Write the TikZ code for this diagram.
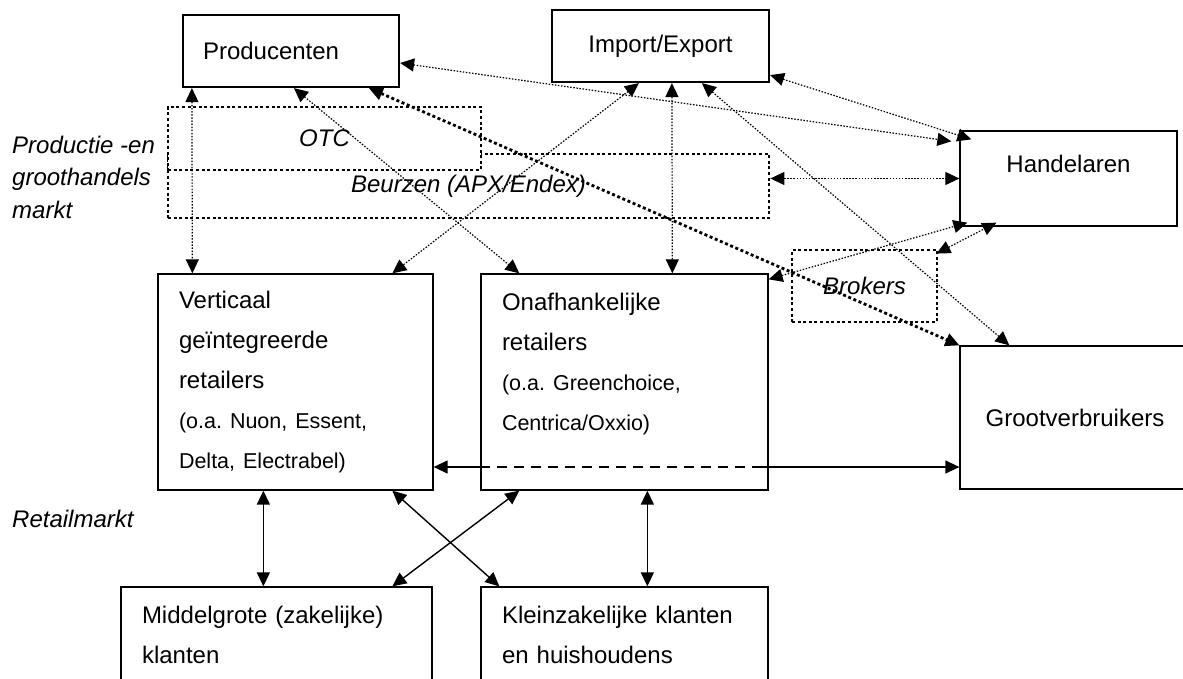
\documentclass[tikz,border=0pt]{standalone}
\usepackage{fontspec}
\setmainfont{Liberation Sans}
\usetikzlibrary{positioning}
\usetikzlibrary{arrows.meta}
\usetikzlibrary{calc}

\begin{document}
\begin{tikzpicture}[x=1pt, y=-1pt,
    >={Triangle[length=14pt, width=13pt]},
    box/.style={draw, line width=1.3pt, fill=white, inner sep=0pt, font=\fontsize{24}{40}\selectfont\frenchspacing},
    mkt/.style={box, line width=2.8pt, dash pattern=on 3pt off 2.6pt, font=\fontsize{24}{40}\selectfont\itshape},
    txt/.style={inner sep=0pt, font=\fontsize{24}{40}\selectfont},
    side/.style={inner sep=0pt, align=left, font=\fontsize{24}{32.5}\selectfont\itshape},
    lnk/.style={<->, line width=1.2pt, dash pattern=on 1.5pt off 1.6pt},
    thk/.style={<->, line width=2.8pt, dash pattern=on 3pt off 2.6pt},
    sol/.style={line width=1.4pt}]
    \useasboundingbox (0,0) rectangle (1183,679);

    % markt labels
    \node[side, anchor=north west] (pgm) at (12,135.5) {Productie -en\\ groothandels\\ markt};
    \node[side, anchor=base west] (rm) at (12,527) {Retailmarkt};

    % productie en groothandel
    \node[box, line width=2.2pt, minimum width=216pt, minimum height=72pt, text width=176pt, align=left] (prod) at (291,51) {Producenten};
    \node[box, line width=2.2pt, minimum width=217pt, minimum height=72pt] (ie) at (660.5,46) {Import/Export};
    \node[mkt, minimum width=601pt, minimum height=64pt] (beurs) at (468.5,186) {Beurzen (APX/Endex)};
    \node[mkt, line width=2.3pt, minimum width=313pt, minimum height=63pt] (otc) at (324.5,138.5) {OTC};
    \node[box, minimum width=217pt, minimum height=95pt] (hand) at (1068.5,178.5) {};
    \node[txt] (hand-t) at ([yshift=-34pt]hand.north) {Handelaren};
    \node[mkt, minimum width=145pt, minimum height=72pt] (brok) at (864.5,286) {Brokers};
    \node[box, minimum width=230pt, minimum height=143pt] (groot) at (1075,417.5) {Grootverbruikers};

    % retail
    \node[box, minimum width=275pt, minimum height=216pt, text width=233pt, align=left] (vert) at (295.5,382)
        {Verticaal\\ geïntegreerde\\ retailers\\ {\fontsize{21.5}{40}\selectfont (o.a. Nuon, Essent,}\\ {\fontsize{21.5}{40}\selectfont Delta, Electrabel)}};
    \node[box, minimum width=287pt, minimum height=216pt, text width=245pt, align=left] (onaf) at (624.5,382)
        {Onafhankelijke\\ retailers\\ {\fontsize{21.5}{40}\selectfont (o.a. Greenchoice,}\\ {\fontsize{21.5}{40}\selectfont Centrica/Oxxio)}\\ \mbox{}};
    \node[box, minimum width=311pt, minimum height=95pt, text width=269pt, align=left] (mid) at (276.5,634.5) {Middelgrote (zakelijke)\\ klanten};
    \node[box, minimum width=287pt, minimum height=95pt, text width=245pt, align=left] (klein) at (624.5,634.5) {Kleinzakelijke klanten\\ en huishoudens};

    % groothandelsstromen
    \draw[lnk] ([xshift=10pt]prod.south west) -- ([xshift=35pt]vert.north west);
    \draw[lnk] ([xshift=112pt]prod.south west) -- ([xshift=39pt]onaf.north west);
    \draw[thk] ([xshift=187pt]prod.south west) -- (groot.north west);
    \draw[lnk] ([yshift=-12pt]prod.east) -- ([xshift=-8pt, yshift=-11pt]hand.north west);
    \draw[lnk] ([xshift=88pt]ie.south west) -- ([xshift=235pt]vert.north west);
    \draw[lnk] ([xshift=121pt]ie.south west) -- ([xshift=192pt]onaf.north west);
    \draw[lnk] ([xshift=151pt]ie.south west) -- ([xshift=50pt]groot.north west);
    \draw[lnk] ([yshift=8pt]ie.south east) -- ([xshift=12pt, yshift=-9pt]hand.north west);
    \draw[lnk] (beurs.east |- hand.west) -- (hand.west);
    \draw[lnk] ([yshift=-6pt]onaf.north east) -- ([xshift=8pt, yshift=4pt]hand.south west);
    \draw[lnk] ([xshift=-2pt, yshift=-5pt]brok.north east) -- ([xshift=37pt, yshift=4pt]hand.south west);

    % retailstromen
    \coordinate (hl) at ([yshift=-85pt]vert.east);
    \draw[sol, ->] (hl -| onaf.west) -- (hl);
    \draw[line width=2.8pt, dash pattern=on 10pt off 7pt] (hl -| onaf.west) -- ($(hl -| onaf.east)+(-15,0)$);
    \draw[sol, ->] ($(hl -| onaf.east)+(-15,0)$) -- (hl -| groot.west);
    \draw[sol, <->] ([xshift=106pt]vert.south west) -- ([xshift=143pt]mid.north west);
    \draw[sol, <->] ([xshift=235pt]vert.south west) -- ([xshift=19pt]klein.north west);
    \draw[sol, <->] ([xshift=39pt]onaf.south west) -- ([xshift=272pt]mid.north west);
    \draw[sol, <->] ([xshift=167pt]onaf.south west) -- ([xshift=167pt]klein.north west);
\end{tikzpicture}
\end{document}
